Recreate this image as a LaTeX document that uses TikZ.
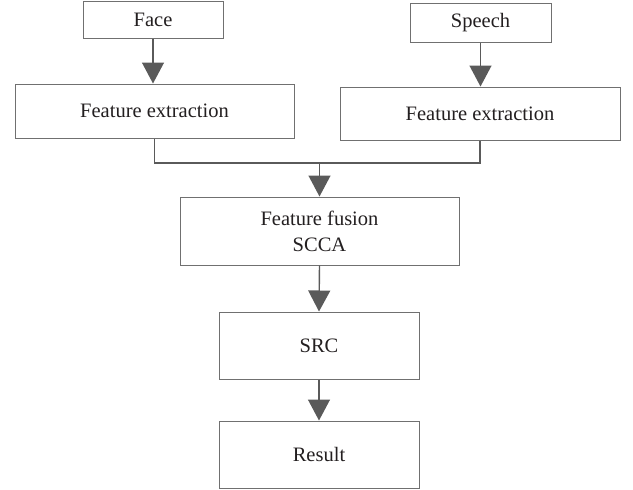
\documentclass[tikz,border=0pt]{standalone}
\usepackage{fontspec}
\setmainfont{Liberation Serif}
\usetikzlibrary{arrows.meta}
\definecolor{boxline}{HTML}{707070}
\definecolor{arrowcol}{HTML}{5A5A5A}
\definecolor{txt}{HTML}{231F20}
\tikzset{
  box/.style={draw=boxline, line width=1pt, rectangle, inner sep=0pt, align=center,
    text=txt, font=\fontsize{20.5}{26}\selectfont},
  conn/.style={draw=arrowcol, line width=1.4pt},
  arr/.style={conn, -{Triangle[width=22pt,length=21pt]}, arrowcol},
}
\begin{document}
\begin{tikzpicture}[x=1pt,y=-1pt]
\useasboundingbox (0,0) rectangle (633,490);
\node[box, minimum width=140pt, minimum height=37pt] (face) at (153,19.5) {Face};
\node[box, minimum width=141pt, minimum height=39pt] (speech) at (480.5,22.5) {Speech};
\node[box, minimum width=279pt, minimum height=54pt] (lfe) at (154.5,111) {Feature extraction};
\node[box, minimum width=280pt, minimum height=53pt] (rfe) at (480,113.5) {Feature extraction};
\node[box, minimum width=279pt, minimum height=68pt] (fus) at (319.5,231) {Feature fusion\\SCCA};
\node[box, minimum width=200pt, minimum height=67pt] (src) at (319,345.5) {SRC};
\node[box, minimum width=200pt, minimum height=67pt] (res) at (319,454.5) {Result};
\coordinate (j) at (319.5,163);
\draw[arr] (face.south) -- (face.south |- lfe.north);
\draw[arr] (speech.south) -- (speech.south |- rfe.north);
\draw[conn] (lfe.south) |- (j);
\draw[conn] (rfe.south) |- (j);
\draw[arr] (j) -- (fus.north);
\draw[arr] (fus.south) -- (src.north);
\draw[arr] (src.south) -- (res.north);
\end{tikzpicture}
\end{document}
